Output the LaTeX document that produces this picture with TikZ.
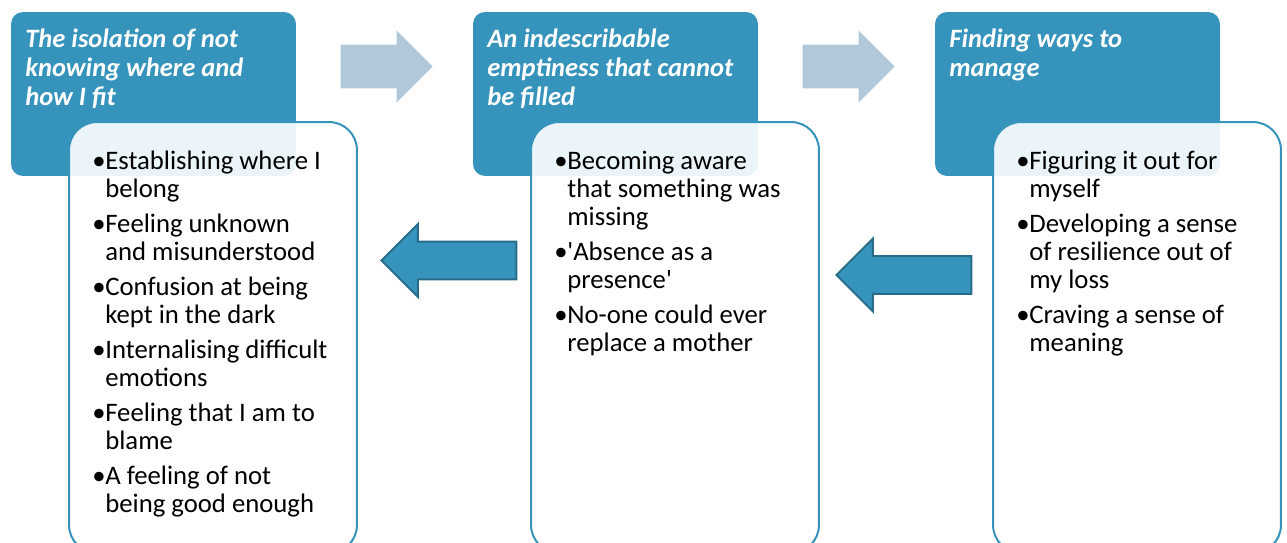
\documentclass[tikz,border=0pt]{standalone}
\usepackage{fontspec}
\setmainfont{Carlito}
\usetikzlibrary{shapes.arrows}

\definecolor{headblue}{RGB}{54,148,188}
\definecolor{paleblue}{RGB}{176,200,218}
\definecolor{darkedge}{RGB}{40,108,138}

\newcommand{\bl}{\makebox[0.26cm][l]{\textbullet}}
\newcommand{\ind}{\hspace*{0.26cm}}

\begin{document}
\begin{tikzpicture}[x=0.02cm, y=-0.02cm,
	head/.style={rectangle, rounded corners=0.24cm, fill=headblue, inner sep=0,
		minimum width=5.7cm, minimum height=3.28cm},
	htext/.style={anchor=north west, inner sep=0, align=left, text=white,
		font=\fontsize{15.1pt}{16.4pt}\selectfont\bfseries\itshape},
	card/.style={rectangle, rounded corners=0.56cm, draw=headblue, line width=0.04cm,
		fill=white, fill opacity=0.9, inner sep=0, minimum width=5.76cm, minimum height=8.62cm},
	btext/.style={anchor=north west, inner sep=0, align=left,
		font=\fontsize{15.2pt}{15.9pt}\selectfont},
	fwd/.style={single arrow, anchor=tip, fill=paleblue, inner xsep=0, inner ysep=0.43cm,
		single arrow head extend=0.28cm, minimum height=1.84cm},
	back/.style={single arrow, anchor=tip, shape border rotate=180, fill=headblue, draw=darkedge,
		line width=0.04cm, inner xsep=0, inner ysep=0.36cm,
		single arrow head extend=0.35cm, minimum height=2.7cm}
]
	\clip (0,0) rectangle (1287,543);

	\node[head] (H1) at (153.5,94) {};
	\node[head] (H2) at (615.5,94) {};
	\node[head] (H3) at (1077.5,94) {};

	\node[htext] (T1) at (25,29) {The isolation of not\\knowing where and\\how I fit};
	\node[htext] (T2) at (487,29) {An indescribable\\emptiness that cannot\\be filled};
	\node[htext] (T3) at (949,29) {Finding ways to\\manage};

	\node[card] (B1) at (213,337.5) {};
	\node[card] (B2) at (675,337.5) {};
	\node[card] (B3) at (1137,337.5) {};

	\node[btext] (L1) at (92,150.5) {\bl Establishing where I\\\ind belong\\[0.145cm]
		\bl Feeling unknown\\\ind and misunderstood\\[0.145cm]
		\bl Confusion at being\\\ind kept in the dark\\[0.145cm]
		\bl Internalising difficult\\\ind emotions\\[0.145cm]
		\bl Feeling that I am to\\\ind blame\\[0.145cm]
		\bl A feeling of not\\\ind being good enough};
	\node[btext] (L2) at (554,150.5) {\bl Becoming aware\\\ind that something was\\\ind missing\\[0.145cm]
		\bl \textquotesingle Absence as a\\\ind presence\textquotesingle\\[0.145cm]
		\bl No-one could ever\\\ind replace a mother};
	\node[btext] (L3) at (1016,150.5) {\bl Figuring it out for\\\ind myself\\[0.145cm]
		\bl Developing a sense\\\ind of resilience out of\\\ind my loss\\[0.145cm]
		\bl Craving a sense of\\\ind meaning};

	\node[fwd] (F1) at (433,66.5) {};
	\node[fwd] (F2) at (895,66.5) {};
	\node[back] (R1) at (380,260.5) {};
	\node[back] (R2) at (835,275) {};
\end{tikzpicture}
\end{document}
